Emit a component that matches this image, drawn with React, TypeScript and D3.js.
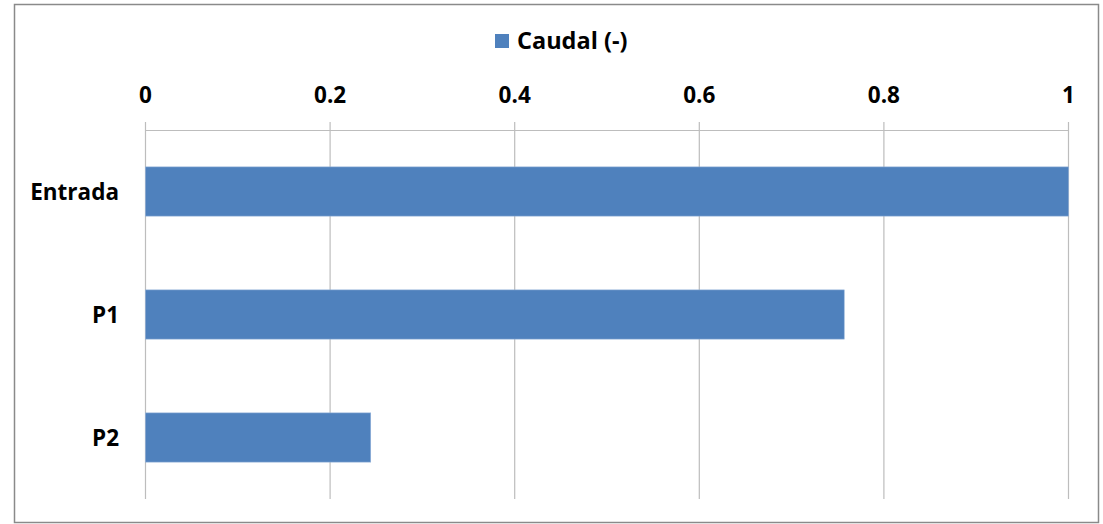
import React, { useEffect, useRef } from "react";
import * as d3 from "d3";

const categories = ["Entrada", "P1", "P2"];
const caudal = [1.0, 0.757, 0.244];
const tickValues = [0, 0.2, 0.4, 0.6, 0.8, 1];
const seriesName = "Caudal (-)";

const W = 1103;
const H = 524;
const FONT = "'Open Sans', Lato, sans-serif";
const BAR = "#4F81BD";

export default function App() {
  const ref = useRef<SVGSVGElement>(null);

  useEffect(() => {
    const svg = d3.select(ref.current);
    svg.selectAll("*").remove();

    // chart border
    svg.append("rect")
      .attr("x", 14.5).attr("y", 4.5)
      .attr("width", 1084).attr("height", 518)
      .attr("fill", "#fff").attr("stroke", "#8a8a8a").attr("stroke-width", 1.5);

    const x = d3.scaleLinear().domain([0, 1]).range([145.5, 1068.5]);
    const y = d3.scaleBand().domain(categories).range([130, 499]).paddingInner(0.6).paddingOuter(0.3);

    // gridlines
    svg.append("g").selectAll("line").data(tickValues).join("line")
      .attr("x1", d => x(d)).attr("x2", d => x(d))
      .attr("y1", 122).attr("y2", 499)
      .attr("stroke", "#bdbdbd").attr("stroke-width", 1.2);

    // axis line
    svg.append("line")
      .attr("x1", x(0)).attr("x2", x(1))
      .attr("y1", 130.5).attr("y2", 130.5)
      .attr("stroke", "#bdbdbd").attr("stroke-width", 1.2);

    // tick labels
    svg.append("g").selectAll("text").data(tickValues).join("text")
      .attr("x", d => x(d)).attr("y", 103)
      .attr("text-anchor", "middle")
      .attr("font-family", FONT).attr("font-weight", "bold").attr("font-size", 22.5)
      .attr("fill", "#000")
      .text(d => d3.format("~g")(d));

    // bars
    svg.append("g").selectAll("rect").data(categories).join("rect")
      .attr("x", x(0))
      .attr("y", d => y(d)!)
      .attr("width", (_, i) => x(caudal[i]) - x(0))
      .attr("height", y.bandwidth())
      .attr("fill", BAR)
      .attr("stroke", "#8fb0d8").attr("stroke-width", 0.6);

    // category labels
    svg.append("g").selectAll("text").data(categories).join("text")
      .attr("x", 119).attr("y", d => y(d)! + y.bandwidth() / 2)
      .attr("dy", "0.36em")
      .attr("text-anchor", "end")
      .attr("font-family", FONT).attr("font-weight", "bold").attr("font-size", 22.5)
      .attr("fill", "#000")
      .text(d => d);

    // legend
    const lg = svg.append("g");
    lg.append("rect").attr("x", 495).attr("y", 34).attr("width", 14).attr("height", 14).attr("fill", BAR);
    lg.append("text").attr("x", 517).attr("y", 49)
      .attr("font-family", FONT).attr("font-weight", "bold").attr("font-size", 23.5)
      .attr("fill", "#000").text(seriesName);
  }, []);

  return (
    <svg ref={ref} width={W} height={H}
      style={{ position: "absolute", left: 0, top: 0, display: "block" }} />
  );
}
